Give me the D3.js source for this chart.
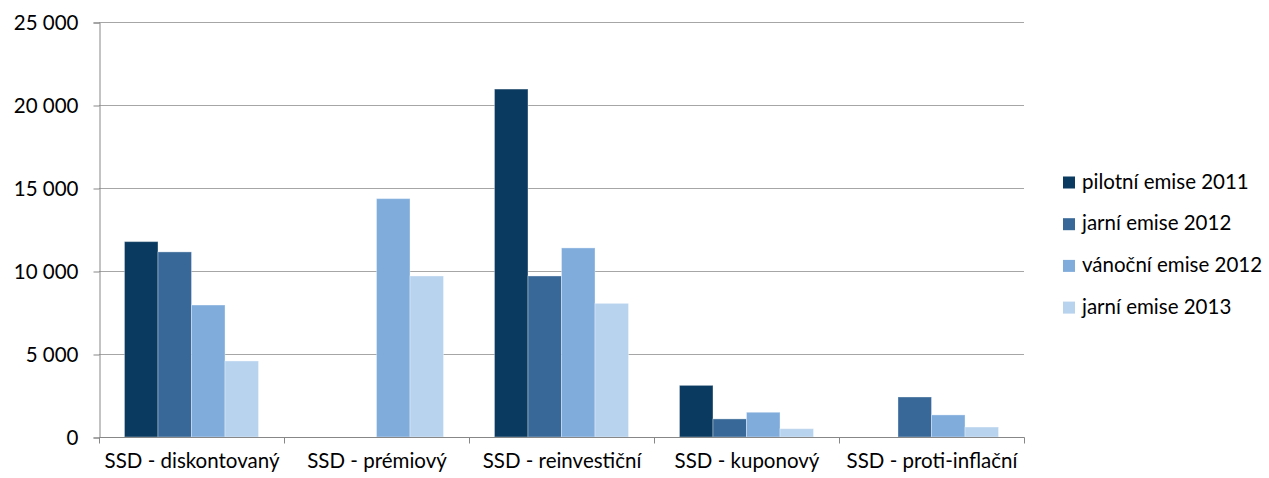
<!DOCTYPE html>
<html><head><meta charset="utf-8">
<script src="https://cdn.jsdelivr.net/npm/d3@7"></script>
<style>body{margin:0;background:#fff}svg{display:block}text{font-family:Lato,"Open Sans",sans-serif;fill:#000}</style>
</head><body><svg id="c" width="1269" height="478"></svg>
<script>
const categories = ["SSD - diskontovaný","SSD - prémiový","SSD - reinvestiční","SSD - kuponový","SSD - proti-inflační"];
const seriesNames = ["pilotní emise 2011","jarní emise 2012","vánoční emise 2012","jarní emise 2013"];
const pilotni2011 = [11770, 0, 20960, 3110, 0];
const jarni2012 = [11150, 0, 9700, 1090, 2410];
const vanocni2012 = [7950, 14360, 11390, 1490, 1330];
const jarni2013 = [4580, 9700, 8050, 500, 600];
const yTicks = [0, 5000, 10000, 15000, 20000, 25000];
const colors = ["#0B3A60","#386898","#80ACDC","#B8D3ED"];

const series = [pilotni2011, jarni2012, vanocni2012, jarni2013];
const svg = d3.select("#c");
const L = 99, R = 1024, T = 22, B = 437;
const FS = 20.5;
const x0 = d3.scaleBand().domain(categories).range([L, R]).paddingInner(0).paddingOuter(0);
const x1 = d3.scaleBand().domain(seriesNames).range([0, x0.bandwidth()]).paddingOuter(0.76).paddingInner(0);
const y = d3.scaleLinear().domain([0, 25000]).range([B, T]);

// gridlines
svg.append("g").selectAll("line").data(yTicks.filter(d => d > 0)).join("line")
  .attr("x1", L).attr("x2", R).attr("y1", d => y(d)+0.5).attr("y2", d => y(d)+0.5)
  .attr("stroke", "#A6A6A6").attr("stroke-width", 1);

// bars
const g = svg.append("g");
categories.forEach((c, ci) => {
  series.forEach((s, si) => {
    const v = s[ci];
    if (!v) return;
    g.append("rect")
      .attr("x", x0(c) + x1(seriesNames[si]))
      .attr("y", y(v))
      .attr("width", x1.bandwidth())
      .attr("height", B - y(v))
      .attr("fill", colors[si])
      .attr("stroke", "rgba(255,255,255,0.35)").attr("stroke-width", 1);
  });
});

// y axis
const yAxis = d3.axisLeft(y).tickValues(yTicks).tickSize(6).tickPadding(15)
  .tickFormat(d => d === 0 ? "0" : (d/1000) + " 000");
const ya = svg.append("g").attr("transform", `translate(${L+0.5},0.5)`).call(yAxis);
ya.select(".domain").attr("stroke", "#878787");
ya.selectAll(".tick line").attr("stroke", "#878787");
ya.selectAll("text").attr("font-size", FS).attr("fill", "#000").attr("dy", "0.33em").attr("xml:space", "preserve");

// x axis
const xa = svg.append("g").attr("transform", `translate(0.5,${B+0.5})`)
  .call(d3.axisBottom(x0).tickSize(0).tickPadding(16));
xa.select(".domain").attr("stroke", "#878787").attr("d", `M${L},0H${R}`);
xa.selectAll("text").attr("font-size", FS).attr("fill", "#000");
const bounds = categories.map(c => x0(c)).concat([R]);
xa.append("g").selectAll("line").data(bounds).join("line")
  .attr("x1", d => d).attr("x2", d => d).attr("y1", 0).attr("y2", 6).attr("stroke", "#878787");

// legend
const lg = svg.append("g").attr("transform", "translate(1063,182.5)");
seriesNames.forEach((n, i) => {
  const row = lg.append("g").attr("transform", `translate(0,${i*41.7})`);
  row.append("rect").attr("x", 0).attr("y", -6).attr("width", 12).attr("height", 12).attr("fill", colors[i]);
  row.append("text").attr("x", 19).attr("y", 0).attr("dy", "0.3em").attr("font-size", FS).text(n);
});
</script></body></html>
